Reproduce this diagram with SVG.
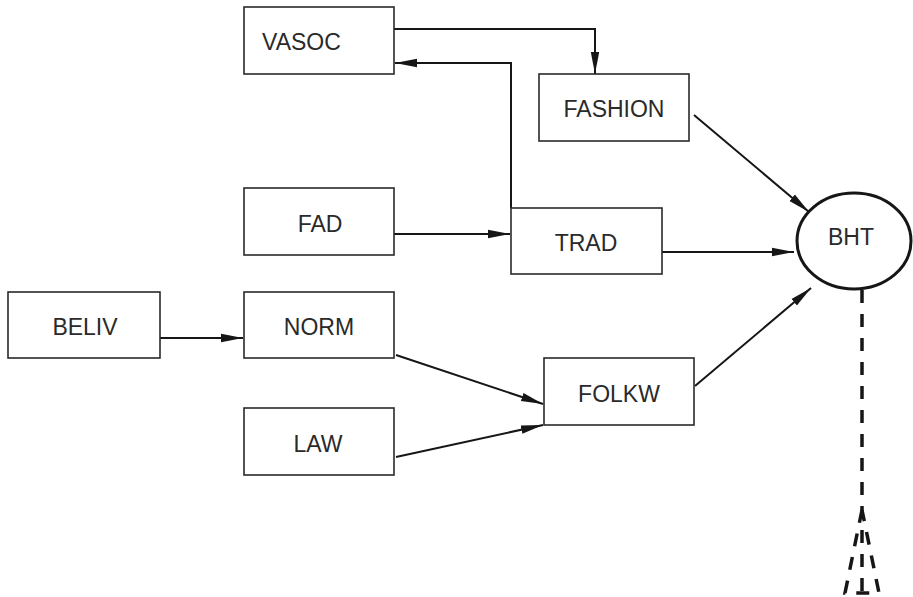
<svg xmlns="http://www.w3.org/2000/svg" width="913" height="597" viewBox="0 0 913 597">
<style>
.box{fill:#fff;stroke:#2a2a2a;stroke-width:1.6}
.lbl{font-family:"Liberation Sans",Arial,sans-serif;font-size:23px;fill:#2a2a2a;text-anchor:middle}
.c{fill:none;stroke:#161616;stroke-width:2}
.d{fill:none;stroke:#161616;stroke-width:3.5;stroke-dasharray:13 11}
</style>
<defs>
<marker id="ah" markerUnits="userSpaceOnUse" markerWidth="22" markerHeight="10" refX="22" refY="5" orient="auto">
<path d="M0,0.8 L22,5 L0,9.2 z" fill="#161616"/>
</marker>
</defs>
<rect width="913" height="597" fill="#fff"/>
<g id="connectors">
<path class="c" d="M394,29 H595 V74" marker-end="url(#ah)"/>
<path class="c" d="M511,208 V63 H395" marker-end="url(#ah)"/>
<path class="c" d="M394,234 H510" marker-end="url(#ah)"/>
<path class="c" d="M662,252 H794" marker-end="url(#ah)"/>
<path class="c" d="M694,115 L809,212" marker-end="url(#ah)"/>
<path class="c" d="M695,386 L811,288" marker-end="url(#ah)"/>
<path class="c" d="M160,338 H243" marker-end="url(#ah)"/>
<path class="c" d="M396,355 L543,404" marker-end="url(#ah)"/>
<path class="c" d="M396,457 L543,425" marker-end="url(#ah)"/>
<path class="d" d="M862,290 V592"/>
<path class="d" d="M862,510 L845,593 L879,593 Z"/>
</g>
<g id="VASOC"><rect class="box" x="244" y="7" width="150" height="67"/><text class="lbl" x="262" y="50" style="text-anchor:start">VASOC</text></g>
<g id="FASHION"><rect class="box" x="539" y="74" width="150" height="67"/><text class="lbl" x="614" y="117">FASHION</text></g>
<g id="FAD"><rect class="box" x="244" y="188" width="150" height="67"/><text class="lbl" x="320" y="232">FAD</text></g>
<g id="TRAD"><rect class="box" x="511" y="208" width="151" height="66"/><text class="lbl" x="586" y="251">TRAD</text></g>
<g id="BHT"><ellipse cx="854" cy="241" rx="57" ry="48" fill="#fff" stroke="#161616" stroke-width="3"/><text class="lbl" x="851" y="245">BHT</text></g>
<g id="BELIV"><rect class="box" x="8" y="292" width="152" height="66"/><text class="lbl" x="85" y="335">BELIV</text></g>
<g id="NORM"><rect class="box" x="244" y="292" width="150" height="66"/><text class="lbl" x="319" y="335">NORM</text></g>
<g id="LAW"><rect class="box" x="244" y="408" width="150" height="67"/><text class="lbl" x="318" y="452">LAW</text></g>
<g id="FOLKW"><rect class="box" x="544" y="358" width="150" height="67"/><text class="lbl" x="619" y="402">FOLKW</text></g>
</svg>
